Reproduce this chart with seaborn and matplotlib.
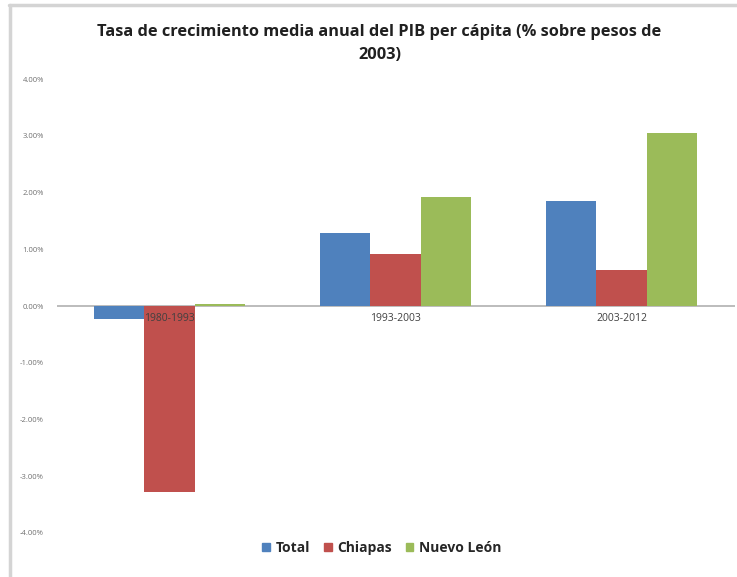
import matplotlib
matplotlib.use("Agg")
import matplotlib.pyplot as plt
import seaborn as sns
import pandas as pd
from matplotlib.lines import Line2D
from matplotlib.ticker import FuncFormatter

periods = ["1980-1993", "1993-2003", "2003-2012"]
series = ["Total", "Chiapas", "Nuevo León"]
total = [-0.23, 1.29, 1.85]
chiapas = [-3.28, 0.92, 0.63]
nuevo_leon = [0.04, 1.92, 3.05]
yticks = [-4, -3, -2, -1, 0, 1, 2, 3, 4]

colors = ["#4F81BD", "#C0504D", "#9BBB59"]

rows = []
for name, vals in zip(series, [total, chiapas, nuevo_leon]):
    for p, v in zip(periods, vals):
        rows.append({"Periodo": p, "Serie": name, "Valor": v})
df = pd.DataFrame(rows)

sns.set_style("white")
plt.rcParams['font.family'] = ['Open Sans', 'DejaVu Sans']

fig = plt.figure(figsize=(7.37, 5.77), dpi=100)
ax = fig.add_axes([0.0767, 0.0763, 0.9203, 0.7867])

sns.barplot(data=df, x="Periodo", y="Valor", hue="Serie", order=periods,
            hue_order=series, palette=colors, width=0.67, saturation=1,
            linewidth=0, ax=ax, legend=False)

ax.set_axisbelow(False)
ax.set_ylim(-4, 4)
ax.set_yticks(yticks)
ax.yaxis.set_major_formatter(FuncFormatter(lambda v, _: f"{v:.2f}%"))
ax.tick_params(axis='y', labelsize=5.5, labelcolor="#707070", length=0, pad=9)
ax.spines['bottom'].set_position(('data', 0))
ax.tick_params(axis='x', labelsize=7.5, labelcolor="#404040", length=0, pad=5)
ax.set_xlabel("")
ax.set_ylabel("")
for s in ax.spines.values():
    s.set_visible(False)
ax.axhline(0, color="#b0b0b0", lw=1.2, zorder=0.5)

fig.text(0.515, 0.925, "Tasa de crecimiento media anual del PIB per cápita (% sobre pesos de\n2003)",
         ha="center", va="center", fontsize=11.8, fontweight="bold", color="#202020",
         linespacing=1.55)

handles = [plt.Rectangle((0, 0), 1, 1, color=c) for c in colors]
fig.legend(handles, series, loc="center", bbox_to_anchor=(0.518, 0.05), ncol=3,
           frameon=False, handlelength=0.55, handleheight=0.55,
           handletextpad=0.4, columnspacing=1.0,
           prop={"weight": "bold", "size": 10})

fig.add_artist(Line2D([0.012, 1.0], [0.991, 0.991], color="#d4d4d4", lw=2.5,
                      transform=fig.transFigure))
fig.add_artist(Line2D([0.013, 0.013], [0.0, 0.991], color="#d4d4d4", lw=2.5,
                      transform=fig.transFigure))

fig.savefig("out.png", dpi=100)
